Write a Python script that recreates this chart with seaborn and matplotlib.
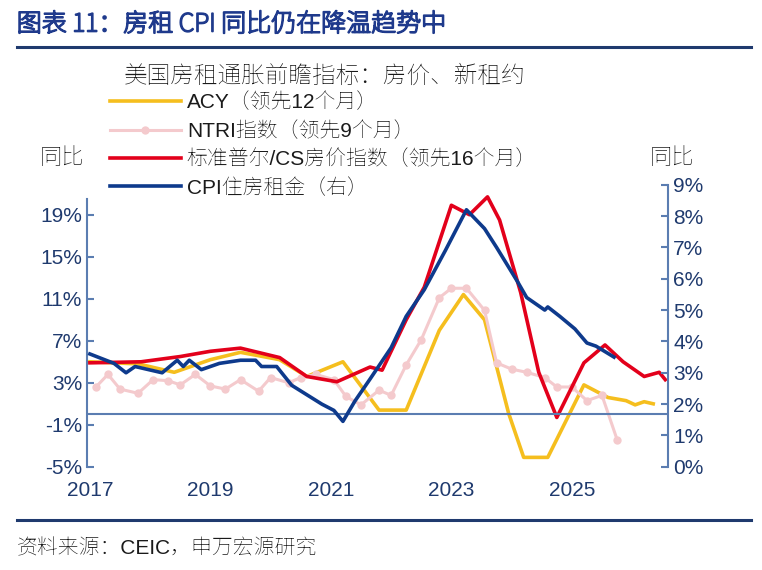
import numpy as np
import pandas as pd
import matplotlib
matplotlib.use("Agg")
import matplotlib.pyplot as plt
import matplotlib.patheffects as pe
from matplotlib import font_manager
import seaborn as sns

# pick whatever CJK family is actually installed
_have = {f.name for f in font_manager.fontManager.ttflist}
_cjk = [n for n in ["Noto Sans CJK SC", "Noto Sans SC", "Noto Sans CJK JP", "Noto Serif SC",
                    "Noto Serif CJK SC"] if n in _have]
plt.rcParams["font.family"] = ["Liberation Sans"] + _cjk + ["DejaVu Sans"]

# ---- data ----
red_t = [2017.0, 2017.85, 2018.5, 2019.0, 2019.5, 2020.15, 2020.6, 2021.1, 2021.65, 2021.85,
         2022.25, 2022.55, 2023.0, 2023.3, 2023.6, 2023.8, 2024.15, 2024.45, 2024.75, 2025.2,
         2025.55, 2025.85, 2026.2, 2026.45, 2026.55]
red_v = [4.9, 5.0, 5.5, 6.0, 6.3, 5.4, 3.6, 3.1, 4.5, 4.2,
         9.0, 12.1, 19.9, 19.0, 20.7, 18.5, 11.6, 4.0, -0.3, 4.9,
         6.6, 5.0, 3.6, 4.0, 3.3]

acy_t = [2017.0, 2017.8, 2018.4, 2019.0, 2019.5, 2020.15, 2020.6, 2021.2, 2021.8, 2022.25,
         2022.8, 2023.2, 2023.55, 2023.95, 2024.2, 2024.6, 2025.2, 2025.6, 2025.9, 2026.05,
         2026.2, 2026.35]
acy_v = [5.0, 4.8, 4.0, 5.2, 5.9, 5.2, 3.6, 5.0, 0.4, 0.4,
         8.0, 11.4, 9.0, 0.1, -4.1, -4.1, 2.8, 1.6, 1.3, 0.9,
         1.2, 1.0]

ntri_t = [2017.1, 2017.3, 2017.5, 2017.8, 2018.05, 2018.3, 2018.5, 2018.75, 2019.0, 2019.25,
          2019.5, 2019.8, 2020.0, 2020.3, 2020.5, 2020.75, 2021.05, 2021.25, 2021.5, 2021.8,
          2022.0, 2022.25, 2022.5, 2022.8, 2023.0, 2023.25, 2023.55, 2023.75, 2024.0, 2024.25,
          2024.55, 2024.75, 2025.0, 2025.25, 2025.5, 2025.75]
ntri_v = [2.6, 3.8, 2.4, 2.0, 3.3, 3.2, 2.8, 3.8, 2.7, 2.4,
          3.3, 2.2, 3.5, 3.0, 3.5, 3.8, 3.3, 1.7, 0.9, 2.3,
          1.8, 4.7, 7.1, 11.1, 12.0, 12.0, 9.9, 4.9, 4.3, 4.0,
          3.5, 2.6, 2.6, 1.3, 1.8, -2.4]

cpi_t = [2017.0, 2017.4, 2017.6, 2017.75, 2018.2, 2018.45, 2018.55, 2018.65, 2018.85, 2019.15,
         2019.5, 2019.75, 2019.85, 2020.1, 2020.35, 2020.6, 2020.85, 2021.05, 2021.2, 2021.4,
         2021.65, 2022.0, 2022.25, 2022.55, 2022.9, 2023.25, 2023.55, 2023.75, 2024.1, 2024.25,
         2024.55, 2024.6, 2024.8, 2025.05, 2025.25, 2025.4, 2025.7]
cpi_v = [3.6, 3.3, 3.0, 3.2, 3.0, 3.4, 3.2, 3.4, 3.1, 3.3,
         3.4, 3.4, 3.2, 3.2, 2.6, 2.3, 2.0, 1.8, 1.45, 2.1,
         2.8, 3.8, 4.8, 5.65, 6.9, 8.2, 7.6, 7.0, 5.9, 5.4,
         5.0, 5.1, 4.8, 4.4, 3.95, 3.85, 3.5]

left_ticks = [-5, -1, 3, 7, 11, 15, 19]
right_ticks = list(range(0, 10))
years = [2017, 2019, 2021, 2023, 2025]

navy = "#1F3A6E"
spine = "#5B7DB1"

fig = plt.figure(figsize=(7.62, 5.70), dpi=100)
ax = fig.add_axes([0.114, 0.181, 0.763, 0.495])
ax2 = ax.twinx()

sns.lineplot(x=acy_t, y=acy_v, ax=ax, color="#F5BE1E", lw=2.6, label="ACY（领先12个月）")
sns.lineplot(x=ntri_t, y=ntri_v, ax=ax, color="#F4CACD", lw=2.2, marker="o", ms=6,
             markeredgewidth=0, label="NTRI指数（领先9个月）")
sns.lineplot(x=red_t, y=red_v, ax=ax, color="#E3001B", lw=2.6, label="标准普尔/CS房价指数（领先16个月）")
sns.lineplot(x=cpi_t, y=cpi_v, ax=ax2, color="#0E3A8C", lw=2.6, label="CPI住房租金（右）")

ax.set_xlim(2016.95, 2026.6)
ax.set_ylim(-5, 21.86)
ax2.set_ylim(0, 9.0)
ax.axhline(0, color=spine, lw=1.5)

ax.set_yticks(left_ticks)
ax.set_yticklabels([f"{v}%" for v in left_ticks])
ax2.set_yticks(right_ticks)
ax2.set_yticklabels([f"{v}%" for v in right_ticks])
ax.set_xticks(years)
ax.set_xticklabels([str(y) for y in years])

for a in (ax, ax2):
    for s in ("top", "bottom"):
        a.spines[s].set_visible(False)
    a.spines["left"].set_color(spine)
    a.spines["right"].set_color(spine)
    a.spines["left"].set_linewidth(1.5)
    a.spines["right"].set_linewidth(1.5)
ax.spines["right"].set_visible(False)
ax2.spines["left"].set_visible(False)
ax.spines["left"].set_bounds(-5, 20.5)
ax.tick_params(axis="y", colors=spine, labelcolor=navy, labelsize=15, length=5, width=1.5, direction="in")
ax2.tick_params(axis="y", colors=spine, labelcolor=navy, labelsize=15, length=5, width=1.5, direction="in")
ax.tick_params(axis="x", length=0, labelcolor=navy, labelsize=15, pad=10)
ax.set_xlabel("")
ax.set_ylabel("")
ax2.set_ylabel("")

h1, l1 = ax.get_legend_handles_labels()
h2, l2 = ax2.get_legend_handles_labels()
ax2.get_legend().remove()
ax.legend(h1 + h2, l1 + l2, loc="upper left", bbox_to_anchor=(0.025, 1.355), frameon=False,
          fontsize=15, handlelength=3.4, handletextpad=0.3, labelspacing=0.42,
          labelcolor="#1a1a1a", borderaxespad=0)

fig.text(0.022, 0.958, "图表 11：房租 CPI 同比仍在降温趋势中", fontsize=18, fontweight="bold",
         fontfamily=_cjk + ["DejaVu Sans"], color="#1F3A8C", va="center",
         path_effects=[pe.withStroke(linewidth=1.3, foreground="#1F3A8C")])
fig.add_artist(plt.Line2D([0.022, 0.985], [0.918, 0.918], color="#1F3A6E", lw=2.2))
fig.text(0.163, 0.865, "美国房租通胀前瞻指标：房价、新租约", fontsize=17, color="#1a1a1a", va="center")
fig.text(0.052, 0.722, "同比", fontsize=16, color="#1a1a1a", va="center")
fig.text(0.853, 0.722, "同比", fontsize=16, color="#1a1a1a", va="center")
fig.add_artist(plt.Line2D([0.022, 0.985], [0.088, 0.088], color="#1F3A6E", lw=2.2))
fig.text(0.022, 0.038, "资料来源：CEIC，申万宏源研究", fontsize=15, color="#1a1a1a", va="center")

fig.savefig("out.png", dpi=100)
